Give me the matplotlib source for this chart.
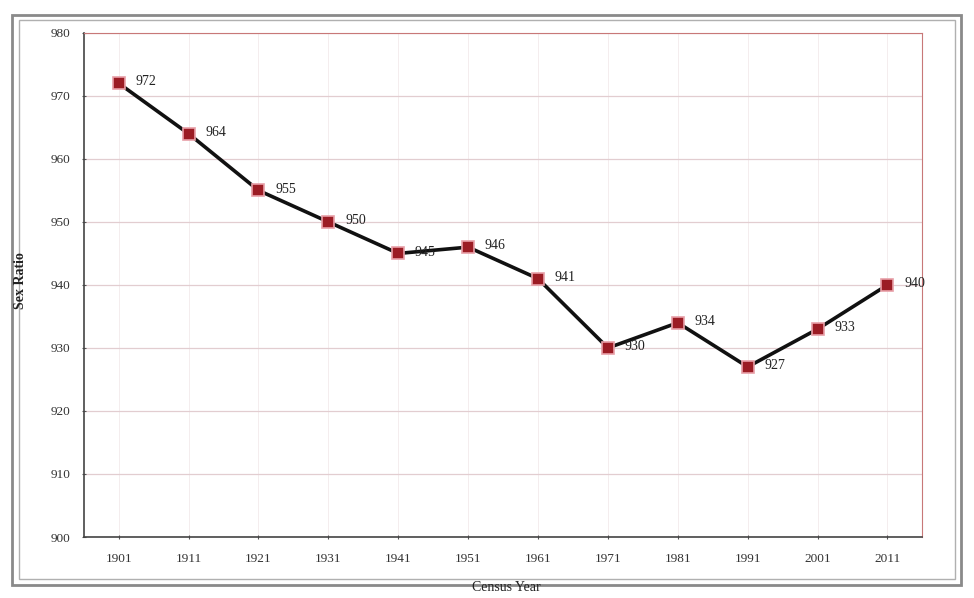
import matplotlib
matplotlib.use('Agg')
import matplotlib.pyplot as plt
from matplotlib.patches import Rectangle

years = ['1901', '1911', '1921', '1931', '1941', '1951', '1961', '1971', '1981', '1991', '2001', '2011']
sex_ratio = [972, 964, 955, 950, 945, 946, 941, 930, 934, 927, 933, 940]
y_ticks = [900, 910, 920, 930, 940, 950, 960, 970, 980]

plt.rcParams['font.family'] = ['Liberation Serif', 'DejaVu Serif']

fig = plt.figure(figsize=(9.74, 5.98), dpi=100)
ax = fig.add_axes([0.086, 0.102, 0.861, 0.843])

x = list(range(len(years)))
ax.plot(x, sex_ratio, color='#111111', linewidth=2.6, zorder=3,
        marker='s', markersize=9, markerfacecolor='#9b1c24',
        markeredgecolor='#e8a0a8', markeredgewidth=1.2)

for xi, v in zip(x, sex_ratio):
    ax.annotate(str(v), (xi, v), xytext=(12, 1), textcoords='offset points',
                fontsize=10, va='center', ha='left', color='#222222')

ax.set_xlim(-0.5, len(years) - 0.5)
ax.set_ylim(900, 980)
ax.set_yticks(y_ticks)
ax.set_yticklabels([str(t) for t in y_ticks], fontsize=9.5, color='#333333')
ax.set_xticks(x)
ax.set_xticklabels(years, fontsize=9.5, color='#333333')
ax.tick_params(axis='both', length=3, color='#555555', direction='inout')
ax.tick_params(axis='x', pad=10)
ax.tick_params(axis='y', pad=8)

ax.grid(axis='y', color='#e2cdd0', linewidth=0.9)
ax.grid(axis='x', color='#f2eaeb', linewidth=0.6)
ax.set_axisbelow(True)

for side in ['left', 'bottom']:
    ax.spines[side].set_color('#444444')
    ax.spines[side].set_linewidth(1.2)
for side in ['top', 'right']:
    ax.spines[side].set_color('#c87878')
    ax.spines[side].set_linewidth(0.8)

fig.text(0.021, 0.53, 'Sex Ratio', rotation=90, ha='center', va='center',
         fontsize=10, fontweight='bold', color='#222222')
fig.text(0.52, 0.018, 'Census Year', ha='center', va='center',
         fontsize=10, color='#222222')

# scanned double border round the chart area
fig.patches.append(Rectangle((0.012, 0.022), 0.975, 0.953, transform=fig.transFigure,
                             fill=False, edgecolor='#8a8a8a', linewidth=2.0))
fig.patches.append(Rectangle((0.020, 0.032), 0.96, 0.935, transform=fig.transFigure,
                             fill=False, edgecolor='#b0b0b0', linewidth=1.0))

fig.savefig('out.png', dpi=100, facecolor='white')
